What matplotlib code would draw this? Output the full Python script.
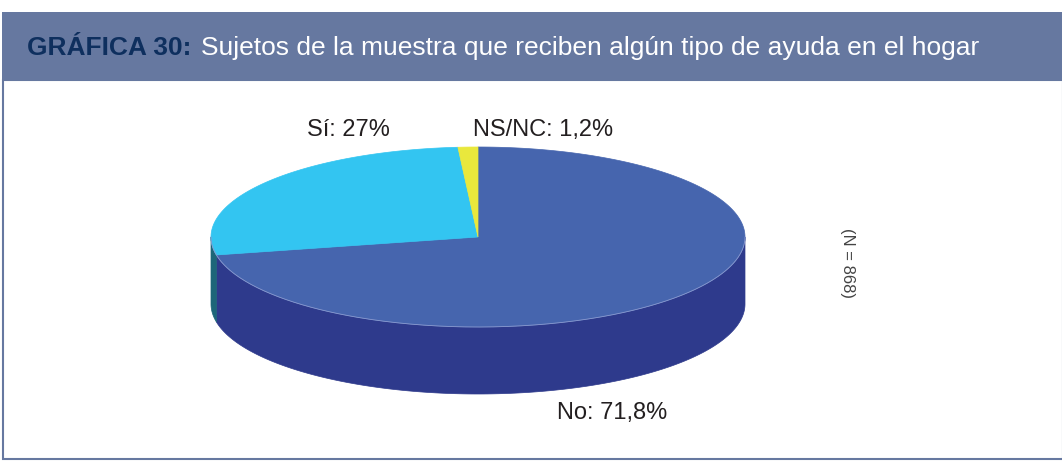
import numpy as np
from matplotlib import pyplot as plt
from matplotlib.patches import Polygon, Rectangle

# data
categories = ['No', 'Sí', 'NS/NC']
values = [71.8, 27.0, 1.2]
value_labels = ['71,8%', '27%', '1,2%']
top_colors = ['#4665ae', '#33c5f1', '#e9e83c']
side_colors = ['#2e3a8c', '#1d6679', '#a8a820']
n_total = 868

W, H = 1062, 461
fig = plt.figure(figsize=(W / 100, H / 100), dpi=100)
ax = fig.add_axes([0, 0, 1, 1])
ax.set_xlim(0, W)
ax.set_ylim(H, 0)
ax.axis('off')

# frame and title banner
ax.add_patch(Rectangle((2.5, 80), W - 2, 379, facecolor='white', edgecolor='#6678a0', lw=1.5))
ax.add_patch(Rectangle((2, 12), W - 2, 68, facecolor='#6678a0', edgecolor='none'))
t1 = ax.text(27, 48, 'GRÁFICA 30:', color='#0e2f5e', fontsize=19, fontweight='bold',
             family='Liberation Sans', va='center', ha='left')
fig.canvas.draw()
bb = t1.get_window_extent()
x_end = ax.transData.inverted().transform((bb.x1, bb.y0))[0]
ax.text(x_end + 10, 48, 'Sujetos de la muestra que reciben algún tipo de ayuda en el hogar',
        color='white', fontsize=19, family='Liberation Sans', va='center', ha='left')

# pseudo 3d pie
cx, cy, rx, ry, depth = 478, 237, 267, 90, 67


def pt(theta_deg, dy=0):
    t = np.radians(theta_deg)
    return cx + rx * np.cos(t), cy - ry * np.sin(t) + dy


# slice angle ranges, clockwise from 12 o'clock
angles = []
start = 90.0
for v in values:
    end = start - v / 100 * 360
    angles.append((end, start))
    start = end

# side walls (front half: 180..360 degrees)
for (a0, a1), col in zip(angles, side_colors):
    for shift in (0, 360, -360):
        lo = max(a0 + shift, 180)
        hi = min(a1 + shift, 360)
        if hi <= lo:
            continue
        th = np.linspace(lo, hi, 200)
        xs, ys = pt(th)
        top = np.column_stack([xs, ys])
        bot = np.column_stack([xs, ys + depth])[::-1]
        ax.add_patch(Polygon(np.vstack([top, bot]), closed=True, facecolor=col,
                             edgecolor=col, lw=0.5))

# top faces
for (a0, a1), col in zip(angles, top_colors):
    th = np.linspace(a0, a1, 300)
    xs, ys = pt(th)
    verts = np.vstack([[cx, cy], np.column_stack([xs, ys])])
    ax.add_patch(Polygon(verts, closed=True, facecolor=col, edgecolor=col, lw=0.5))

# faint rim line on front edge
th = np.linspace(180, 360, 300)
xs, ys = pt(th)
ax.plot(xs, ys, color='#8a9ad0', lw=0.6)

# labels
label_pos = {'No': (612, 413), 'Sí': (348, 130), 'NS/NC': (543, 130)}
for cat, lab in zip(categories, value_labels):
    x, y = label_pos[cat]
    ax.text(x, y, f'{cat}: {lab}', fontsize=17, family='Liberation Sans',
            color='#231f20', ha='center', va='center')

ax.text(847, 263, f'(N = {n_total})', rotation=-90, fontsize=12, family='Liberation Sans',
        color='#444444', ha='center', va='center')

fig.savefig('out.png', dpi=100)
